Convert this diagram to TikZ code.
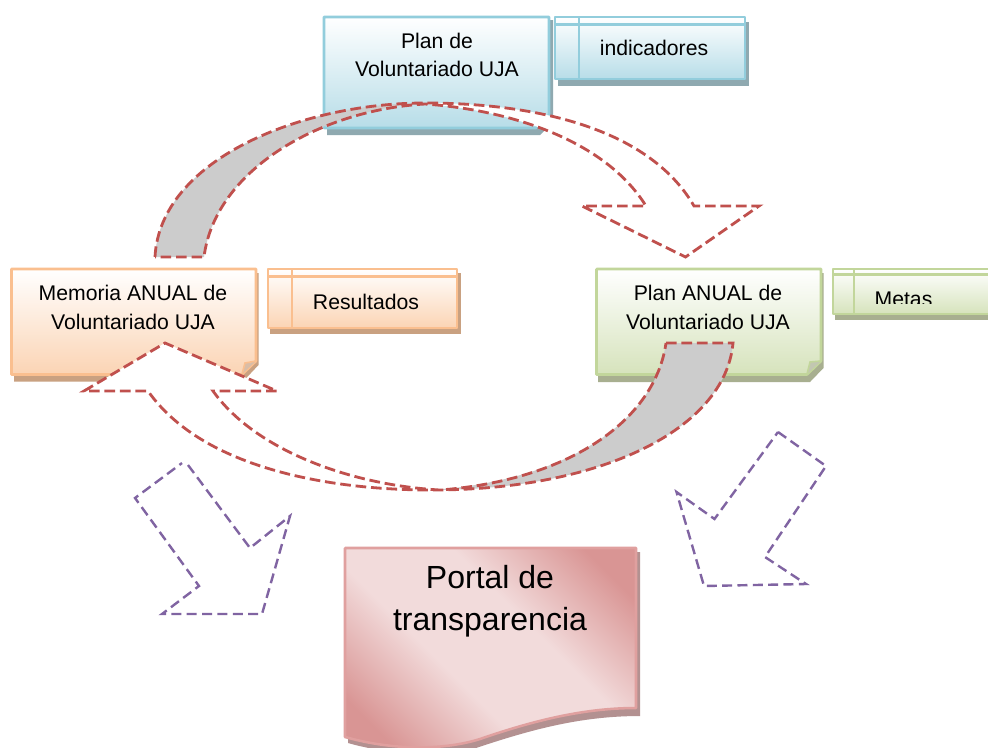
\documentclass[tikz,border=0pt]{standalone}
\usepackage{fontspec}
\setmainfont{Liberation Sans}
\definecolor{bluefill}{HTML}{B7DDE8}
\definecolor{blueline}{HTML}{92CDDC}
\definecolor{blueshadow}{HTML}{8FA9B0}
\definecolor{orangefill}{HTML}{FBD4B4}
\definecolor{orangeline}{HTML}{FABF8F}
\definecolor{orangeshadow}{HTML}{C9A181}
\definecolor{greenfill}{HTML}{D6E3BC}
\definecolor{greenline}{HTML}{C2D69B}
\definecolor{greenshadow}{HTML}{A8AF90}
\definecolor{reddark}{HTML}{D99594}
\definecolor{redlight}{HTML}{F2DBDB}
\definecolor{redline}{HTML}{E0A09F}
\definecolor{redshadow}{HTML}{B39191}
\definecolor{dashred}{HTML}{C0504D}
\definecolor{dashpurple}{HTML}{8064A2}
\definecolor{arcgrey}{HTML}{CCCCCC}
\pgfdeclareverticalshading{portalshade}{100bp}{color(0bp)=(reddark); color(22bp)=(reddark); color(41bp)=(redlight); color(59bp)=(redlight); color(78bp)=(reddark); color(100bp)=(reddark)}
\tikzset{
  x=0.75pt,y=-0.75pt,
  boxface/.style n args={2}{draw=#1,line width=1.9pt,line join=round,top color=white,bottom color=#2},
  innerline/.style={draw=#1,line width=1.8pt},
  labeltext/.style={font=\fontsize{15.9}{21.2}\selectfont,text=black,align=center,inner sep=0pt},
  arcline/.style={draw=dashred,line width=2.1pt,dash pattern=on 8pt off 3.6pt,line join=miter},
  portline/.style={draw=dashpurple,line width=1.8pt,dash pattern=on 7.5pt off 4pt,line join=miter},
}
\begin{document}
\begin{tikzpicture}
\clip (0,0) rectangle (988,747);
\fill[white] (0,0) rectangle (988,747);

% top box
\fill[blueshadow] (327,20) -- (553,20) -- (553,122) -- (540,135) -- (327,135) -- cycle;
\path[boxface={blueline}{bluefill}] (324,17) -- (549,17) -- (549,115) -- (536,128) -- (324,128) -- cycle;
\node[labeltext,font=\fontsize{15.9}{20.8}\selectfont] (plan) at (437,55) {Plan de\\Voluntariado UJA};
% indicadores
\fill[blueshadow] (558,22) rectangle (749,86);
\path[boxface={blueline}{bluefill}] (555,17) rectangle (745,79);
\draw[innerline=blueline] (555,24.5) -- (745,24.5) (579,17) -- (579,79);
\node[labeltext] (indicadores) at (654,48) {indicadores};

% memoria box
\fill[orangeshadow] (14,273) -- (258.5,273) -- (258.5,365) -- (243,381.5) -- (14,381.5) -- cycle;
\path[boxface={orangeline}{orangefill}] (11.5,269) -- (256,269) -- (256,361) -- (242,374.5) -- (11.5,374.5) -- cycle;
\path[draw=orangeline,line width=1.2pt,fill=orangeshadow!70] (242,374) -- (245,363) -- (256,361);
\node[labeltext,font=\fontsize{15.9}{21.7}\selectfont] (memoria) at (133,307.5) {Memoria ANUAL de\\Voluntariado UJA};
% resultados
\fill[orangeshadow] (270,273) rectangle (461,334);
\path[boxface={orangeline}{orangefill}] (268,269) rectangle (457,328);
\draw[innerline=orangeline] (268,276.5) -- (457,276.5) (292,269) -- (292,328);
\node[labeltext] (resultados) at (366,301.5) {Resultados};

% plan anual box
\fill[greenshadow] (598,273) -- (823.5,273) -- (823.5,368) -- (810,382) -- (598,382) -- cycle;
\path[boxface={greenline}{greenfill}] (596.5,269) -- (821,269) -- (821,361) -- (807,374.5) -- (596.5,374.5) -- cycle;
\path[draw=greenline,line width=1.2pt,fill=greenshadow!70] (807,374) -- (810,362) -- (821,361);
\node[labeltext,font=\fontsize{15.9}{21.7}\selectfont] (anual) at (708,307.5) {Plan ANUAL de\\Voluntariado UJA};
% metas
\fill[greenshadow] (835,273) rectangle (990,320);
\path[boxface={greenline}{greenfill}] (833,269) rectangle (992,314);
\draw[innerline=greenline] (833,274.5) -- (992,274.5) (854,269) -- (854,314);
\begin{scope}
\clip (860,280) rectangle (950,303);
\node[labeltext,anchor=base] (metas) at (903.5,306) {Metas};
\end{scope}

% portal
\fill[redshadow] (348,552) -- (640,552) -- (640,716) .. controls (580,716) and (530,730) .. (476,748) .. controls (440,757) and (390,755) .. (348,743) -- cycle;
\path[draw=redline,line width=1.9pt,line join=round,shade,shading=portalshade,shading angle=-45]
  (345,548) -- (636,548) -- (636,708) .. controls (585,708) and (535,720) .. (480,739) .. controls (445,750) and (395,751) .. (345,737) -- cycle;
\node[labeltext,font=\fontsize{24}{31.5}\selectfont] (portal) at (490,601.5) {Portal de\\transparencia};

% arc arrow top
\fill[white] (425,103) .. controls (540,103) and (650,130) .. (694,206) -- (759,206) -- (685.5,257) -- (582,206) -- (646,206) .. controls (605,140) and (510,110) .. (425,104) -- cycle;
\fill[arcgrey] (155,257) .. controls (160,160) and (300,103) .. (425,103) .. controls (320,110) and (215,170) .. (204,257) -- cycle;
\draw[arcline] (155,257) .. controls (160,160) and (300,103) .. (425,103) .. controls (540,103) and (650,130) .. (694,206) -- (759,206) -- (685.5,257) -- (582,206) -- (646,206) .. controls (605,140) and (510,110) .. (425,104) .. controls (320,110) and (215,170) .. (204,257) -- cycle;

% arc arrow bottom
\fill[white] (165,343) -- (277,391) -- (213,391) .. controls (255,450) and (350,485) .. (440,490) -- (432,490) .. controls (320,490) and (200,465) .. (148,391) -- (84,391) -- cycle;
\fill[arcgrey] (733,343) .. controls (725,430) and (600,490) .. (432,490) .. controls (570,480) and (655,420) .. (666,343) -- cycle;
\draw[arcline] (666,343) -- (733,343) .. controls (725,430) and (600,490) .. (432,490) .. controls (320,490) and (200,465) .. (148,391) -- (84,391) -- (165,343) -- (277,391) -- (213,391) .. controls (255,450) and (350,485) .. (440,490) .. controls (570,480) and (655,420) .. (666,343);

% purple arrows
\draw[portline] (188,465) -- (250,548) -- (290,516) -- (262,614) -- (162,614) -- (199,586) -- (135,498) -- (182,463);
\draw[portline] (778,432) -- (826,466) -- (765,557) -- (806,584) -- (704,586) -- (676.5,492) -- (714.5,519) -- cycle;
\end{tikzpicture}
\end{document}
